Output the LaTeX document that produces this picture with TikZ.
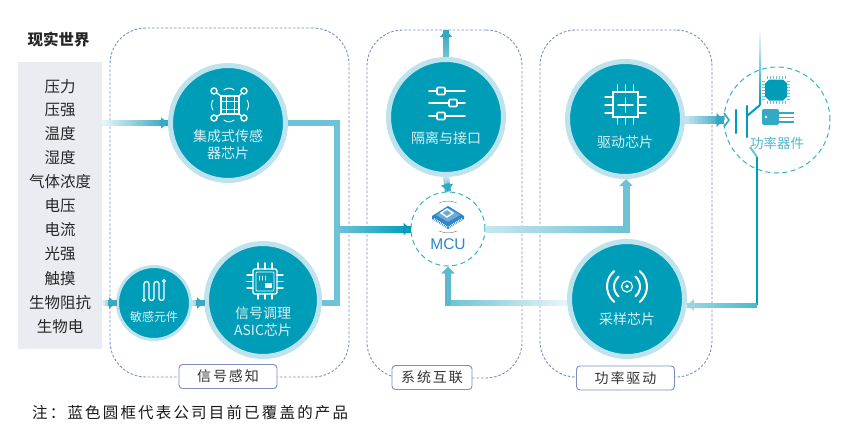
\documentclass[tikz,border=0pt]{standalone}
\usepackage{fontspec}
\usetikzlibrary{calc,arrows.meta}
\newfontfamily\cjk{Noto Sans CJK SC}
\newfontfamily\cjkS[LetterSpace=14]{Noto Sans CJK SC}
\setsansfont{Noto Sans CJK SC}
\definecolor{core}{HTML}{009DB9}
\definecolor{ringc}{HTML}{BEE3EC}
\definecolor{busc}{HTML}{6EC3D6}
\definecolor{txtc}{HTML}{D8F0F5}
\definecolor{boxc}{HTML}{7C8FBE}
\definecolor{grayc}{HTML}{E9EDF2}
\definecolor{mcub}{HTML}{2E86C8}
\definecolor{fadea}{HTML}{E8F5F8}
\definecolor{fadeb}{HTML}{C6E6EE}
\definecolor{midc}{HTML}{35A8C2}
\tikzset{
 x=1pt,y=-1pt,
 chipnode/.style={circle,fill=core,draw=ringc,line width=5pt,inner sep=0pt,minimum size=115pt},
 smallchip/.style={chipnode,line width=3pt,minimum size=73pt},
 ctext/.style={text=txtc,font=\cjk\fontsize{14}{17}\selectfont,align=center,inner sep=0pt},
 dashcirc/.style={circle,draw=core!80,line width=1pt,dash pattern=on 5pt off 3.5pt,inner sep=0pt},
 zonebox/.style={draw=boxc,line width=.9pt,dash pattern=on 2.6pt off 1.8pt,rounded corners=36pt},
 zonelabel/.style={draw=boxc,fill=white,line width=.9pt,rounded corners=3.5pt,minimum width=98pt,minimum height=24pt,inner sep=0pt,font=\cjkS\fontsize{14}{16}\selectfont,text=black!80},
 bustrunk/.style={draw=busc,line width=6pt},
 icon/.style={draw=white,line width=1.4pt,line cap=round},
 leftitem/.style={inner sep=0pt,font=\cjk\fontsize{15.5}{17}\selectfont,text=black!85},
}
% gradient connector: from, to, colour at start, colour at end, width
\newcommand{\gline}[5]{%
 \foreach \i in {0,...,29}{%
  \pgfmathsetmacro\gs{\i/30}\pgfmathsetmacro\ge{min(1,(\i+1.4)/30)}\pgfmathtruncatemacro\gp{100-\i*100/29}%
  \draw[line width=#5,color=#3!\gp!#4] ($(#1)!\gs!(#2)$) -- ($(#1)!\ge!(#2)$);}}
\newcommand{\garrow}[6]{%
 \gline{#1}{#2}{#3}{#4}{#5}%
 \draw[line width=#5,color=#4,-{Triangle[length=7pt,width=#6]}] ($(#2)!8pt!(#1)$) -- (#2);}
\begin{document}
\begin{tikzpicture}
\useasboundingbox (0,0) rectangle (864,442);
% zones
\node[zonebox,minimum width=239pt,minimum height=349pt,inner sep=0pt] (zone1) at (229.5,202.5) {};
\node[zonebox,minimum width=155pt,minimum height=348pt,inner sep=0pt] (zone2) at (444.5,204) {};
\node[zonebox,minimum width=172pt,minimum height=347pt,inner sep=0pt] (zone3) at (626,203.5) {};
\node[zonelabel] (lab1) at (228,376.5) {信号感知};
\node[zonelabel,minimum width=80pt] (lab2) at (432,377.5) {系统互联};
\node[zonelabel] (lab3) at (625.5,378) {功率驱动};
% left column
\node[font=\cjk\fontsize{15.5}{17}\selectfont\bfseries,text=black!85,inner sep=0pt] (world) at (58.5,40) {现实世界};
\node[fill=grayc,minimum width=84pt,minimum height=287pt,inner sep=0pt] (gray) at (60,205.5) {};
\foreach \n/\t/\yy in {a/压力/87,b/压强/110,c/温度/134,d/湿度/158,e/气体浓度/182,f/电压/206,g/电流/230,h/光强/254,i/触摸/279,j/生物阻抗/303,k/生物电/327}
  \node[leftitem] (it\n) at (60,\yy) {\t};
\node[inner sep=0pt,font=\cjkS\fontsize{15.5}{17}\selectfont,text=black!90,anchor=west] (note) at (32,413) {注：蓝色圆框代表公司目前已覆盖的产品};
% circles
\node[chipnode] (int) at (228,123) {};
\node[smallchip] (sens) at (154,303) {};
\node[chipnode,minimum size=113pt] (asic) at (263,300) {};
\node[chipnode] (iso) at (446,117) {};
\node[chipnode] (drv) at (625,119) {};
\node[chipnode] (smp) at (627,299) {};
\node[dashcirc,minimum size=74pt] (mcu) at (448,229) {};
\node[dashcirc,minimum size=106pt] (pwr) at (777,120) {};
% named bends
\coordinate (b1) at (337,123);
\coordinate (b2) at (337,303);
\coordinate (d1) at (626,229);
\coordinate (s1) at (448,303);
\coordinate (topout) at (446,30);
\coordinate (t1) at (760,28);
\coordinate (t2) at (760,105);
\coordinate (t3) at (747,116);
\coordinate (e1) at (750,147);
\coordinate (e2) at (757,157);
\coordinate (e3) at (757,305);
% connectors
\garrow{gray.east |- int.west}{int.west}{fadea}{midc}{6pt}{11pt}
\garrow{gray.east |- sens.west}{sens.west}{fadea}{midc}{6pt}{11pt}
\garrow{sens.east}{sens.east -| asic.west}{fadeb}{midc}{6pt}{11pt}
\draw[bustrunk] (int.east) -- (b1) -- (b2) -- (b2 -| asic.east);
\garrow{b2 |- mcu.west}{mcu.west}{busc}{core}{7pt}{12pt}
\garrow{iso.north}{topout}{busc}{midc}{6pt}{12pt}
\garrow{iso.south}{mcu.north}{fadeb}{midc}{6pt}{12pt}
\gline{mcu.east}{d1}{fadeb}{busc}{7pt}
\draw[line width=7pt,busc,-{Triangle[length=7pt,width=13pt]}] (d1 -| drv.south) ++(1,3.5) -- ($(drv.south)+(1,0)$);
\gline{smp.west |- s1}{s1}{fadea}{busc}{6pt}
\draw[line width=6pt,midc!80,-{Triangle[length=7pt,width=13pt]}] ($(s1)+(0,3)$) -- (mcu.south);
\garrow{drv.east |- pwr.west}{pwr.west}{fadeb}{midc}{8pt}{14pt}
\gline{t1}{t2}{white}{core}{2pt}
\draw[line width=2pt,core,line join=round] (t2) -- (t3);
\draw[line width=2pt,busc] (e1) -- (e2);
\draw[line width=2pt,core] (e2) -- (e3);
\garrow{e3}{e3 -| smp.east}{core}{busc!70}{5pt}{11pt}
% --- power device symbol
\draw[midc,line width=1.6pt] (724,113) -- (729,120) -- (724,127);
\draw[core,line width=2.4pt,line cap=round] (736,110) -- (736,133);
\draw[core,line width=2.4pt,line cap=round] (747,106) -- (747,137);
\fill[core] (769,79.5) -- (783,79.5) -- (787,83.5) -- (787,96.5) -- (783,100.5) -- (769,100.5) -- (765,96.5) -- (765,83.5) -- cycle;
\foreach \k in {0,...,6}{
 \draw[busc,line width=.7pt] (767+\k*3,76) -- (767+\k*3,79);
 \draw[busc,line width=.7pt] (767+\k*3,101) -- (767+\k*3,104);
 \draw[busc,line width=.7pt] (762,81+\k*3) -- (765,81+\k*3);
 \draw[busc,line width=.7pt] (787,81+\k*3) -- (790,81+\k*3);}
\fill[midc,rounded corners=2pt] (762,109) rectangle (779,125);
\fill[white] (766,117) circle (1.3);
\draw[midc,line width=1.5pt] (779,113) -- (794,113) (779,117.5) -- (794,117.5) (779,122) -- (794,122);
\node[text=midc!85,font=\cjk\fontsize{13.5}{16}\selectfont,inner sep=1pt] (pwrt) at (777,143) {功率器件};
% --- circle texts
\node[ctext] (intt) at (228,145) {集成式传感\\器芯片};
\node[ctext,font=\cjk\fontsize{12}{14}\selectfont] (senst) at (154,317) {敏感元件};
\node[ctext] (asict) at (263,321.5) {信号调理\\ASIC芯片};
\node[ctext] (isot) at (446,138) {隔离与接口};
\node[ctext] (drvt) at (625,142) {驱动芯片};
\node[ctext] (smpt) at (627,319) {采样芯片};
\node[inner sep=0pt,text=mcub,font=\fontspec{Liberation Sans}\fontsize{15.5}{17}\selectfont] (mcut) at (448,244) {MCU};
% --- icon: integrated sensor
\draw[icon] (221,96) rectangle (239,114);
\draw[icon,line width=.7pt] (226,96) -- (226,114) (234,96) -- (234,114) (221,101) -- (239,101) (221,109) -- (239,109);
\foreach \px/\py/\qx/\qy in {214/91/221/96,244/91/239/96,214/118/221/114,244/118/239/114}{
 \draw[icon] (\px,\py) circle (3);
 \draw[icon] ($(\px,\py)!3.2pt!(\qx,\qy)$) -- (\qx,\qy);}
\draw[icon,line width=.9pt] (224,90) .. controls (227,87.5) and (231,87.5) .. (234,90);
\draw[icon,line width=.9pt] (224,120) .. controls (227,122.5) and (231,122.5) .. (234,120);
\draw[icon,line width=.9pt] (213,100) .. controls (211,103) and (211,107) .. (213,110);
\draw[icon,line width=.9pt] (247,100) .. controls (249,103) and (249,107) .. (247,110);
% --- icon: sensitive element
\draw[icon,line width=1.3pt] (144,298.5) -- (144,284) arc (180:360:2.5) -- (149,298) arc (180:0:2.5) -- (154,284) arc (180:360:2.5) -- (159,298) arc (180:0:2.5) -- (164,282.5);
\draw[icon,line width=1pt,fill=core] (144,300) circle (1.5) (164,281) circle (1.5);
% --- icon: ASIC
\draw[icon,rounded corners=2pt] (253,269) rectangle (277,294);
\draw[icon,line width=.9pt,rounded corners=1pt] (256,272) rectangle (274,291);
\foreach \k in {0,1,2}{
 \draw[icon] (258+\k*7,263) -- (258+\k*7,269);
 \draw[icon] (258+\k*7,294) -- (258+\k*7,299);
 \draw[icon] (247,275+\k*6.5) -- (253,275+\k*6.5);
 \draw[icon] (277,275+\k*6.5) -- (283,275+\k*6.5);
 \draw[icon,line width=1pt] (259+\k*3,276) -- (259+\k*3,280);}
\fill[white] (265,283) rectangle (272,288);
% --- icon: sliders
\foreach \yy/\xx in {91/441,103/453,116/441}{
 \draw[icon,line width=1.6pt] (429,\yy) -- (465,\yy);
 \draw[icon,fill=core,line width=1.7pt,rounded corners=1pt] (\xx-4,\yy-3.5) rectangle (\xx+4,\yy+3.5);}
% --- icon: drive chip
\draw[icon] (613,92) rectangle (638,117);
\draw[icon] (618,105) -- (633,105) (625.5,98) -- (625.5,112);
\foreach \k in {0,1,2}{
 \draw[icon] (617.5+\k*8,85) -- (617.5+\k*8,92);
 \draw[icon] (617.5+\k*8,117) -- (617.5+\k*8,124);
 \draw[icon] (605,97+\k*8) -- (613,97+\k*8);
 \draw[icon] (638,97+\k*8) -- (646,97+\k*8);}
% --- icon: sampling antenna
\draw[icon,line width=1.2pt] (627,286.5) circle (5.5);
\fill[white] (627,286.5) circle (1.8);
\foreach \r in {13,20}{
 \draw[icon,line width=2pt] ($(627,286.5)+(-50:\r)$) arc (-50:50:\r);
 \draw[icon,line width=2pt] ($(627,286.5)+(130:\r)$) arc (130:230:\r);}
% --- icon: MCU chip
\fill[mcub] (432,216) -- (448,206) -- (464,216) -- (464,219) -- (448,229) -- (432,219) -- cycle;
\fill[mcub!70!white] (436,215) -- (448,208) -- (460,215) -- (448,222) -- cycle;
\draw[white,line width=1.5pt] (447,209) -- (453,213) -- (447,217) -- (441,213) -- cycle;
\draw[white,line width=2pt,dash pattern=on .8pt off 1pt] (434,219) -- (447,227);
\draw[white,line width=2pt,dash pattern=on .8pt off 1pt] (462,219) -- (449,227);
\draw[black!40,line width=.6pt] (439,203) .. controls (445,200.5) and (451,200.5) .. (457,203);
\draw[black!40,line width=.6pt] (439,231) .. controls (445,233.5) and (451,233.5) .. (457,231);
\end{tikzpicture}
\end{document}
